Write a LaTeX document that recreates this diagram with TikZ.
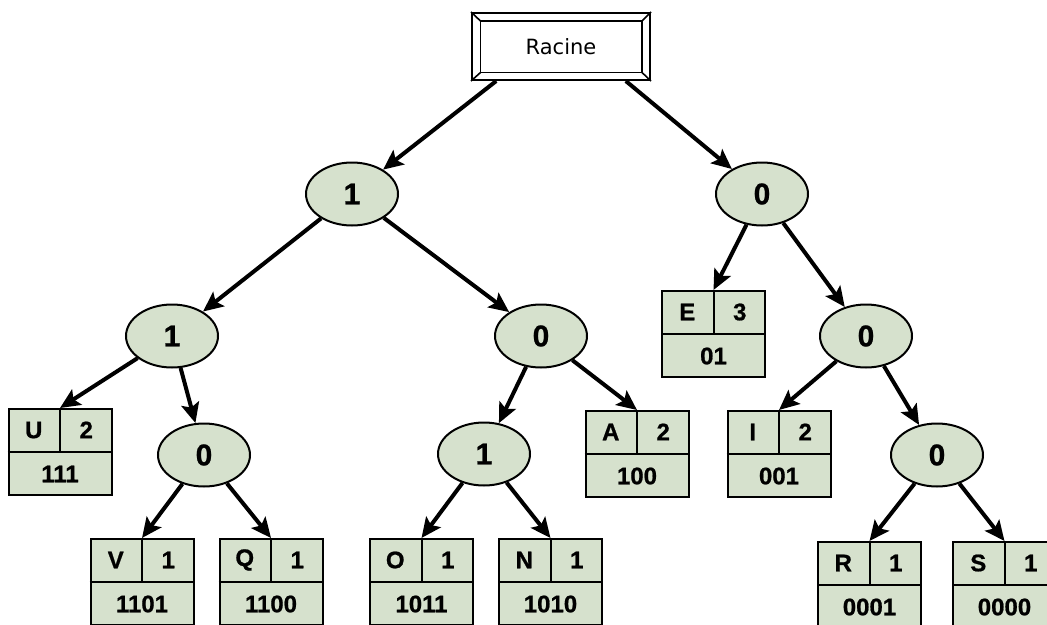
\documentclass[tikz,border=0pt]{standalone}
\usepackage{fontspec}
\setmainfont{Liberation Sans}
\newfontfamily\racfont{DejaVu Sans}
\newfontfamily\heavyfont[FakeBold=0.8]{Liberation Sans}
\usetikzlibrary{shapes.geometric,arrows.meta,calc}
\definecolor{nodegreen}{RGB}{214,225,205}
\tikzset{
  ell/.style={ellipse,draw=black,line width=2pt,fill=nodegreen,minimum width=92pt,minimum height=63pt,inner sep=0pt,font=\heavyfont\fontsize{30}{30}\selectfont\bfseries},
  leaf/.style={rectangle,draw=black,line width=2pt,fill=nodegreen,minimum width=103pt,minimum height=86pt,inner sep=0pt},
  cellline/.style={line width=2pt},
  btxt/.style={inner sep=0pt,font=\heavyfont\fontsize{24}{24}\selectfont\bfseries},
  conn/.style={line width=4pt,-{Stealth[length=20pt,width=18pt,inset=4pt]}},
  rootbox/.style={rectangle,draw=black,line width=2pt,minimum width=178pt,minimum height=67pt,inner sep=0pt,font=\racfont\fontsize{21}{21}\selectfont},
  bevel/.style={line width=1.6pt}
}
\newcommand\leafnode[5]{%
  \node[leaf] (#1) at #2 {};
  \draw[cellline] (#1.west) -- (#1.east) (#1.north) -- (#1.center);
  \node[btxt] (#1-l) at ($(#1.north west)!0.5!(#1.center)$) {#3};
  \node[btxt] (#1-c) at ($(#1.north east)!0.5!(#1.center)$) {#4};
  \node[btxt] (#1-b) at ($(#1.south)!0.5!(#1.center)$) {#5};
}
\begin{document}
\begin{tikzpicture}[x=1pt,y=-1pt]
\useasboundingbox[fill=white] (0,0) rectangle (1047,624);
% root
\node[rootbox] (r) at (561,46.5) {Racine};
\coordinate (ri1) at ([shift={(9.5,9)}]r.north west);
\coordinate (ri2) at ([shift={(-9,9)}]r.north east);
\coordinate (ri3) at ([shift={(-9,-8.5)}]r.south east);
\coordinate (ri4) at ([shift={(9.5,-8.5)}]r.south west);
\draw[bevel] (ri1) -- (ri2) -- (ri3) -- (ri4) -- cycle;
\draw[bevel] (r.north west) -- (ri1) (r.north east) -- (ri2) (r.south east) -- (ri3) (r.south west) -- (ri4);
% ellipses
\node[ell] (n1) at (352,194) {1};
\node[ell] (n0) at (762,194) {0};
\node[ell] (n11) at (172,336) {1};
\node[ell] (n10) at (541,336) {0};
\node[ell] (n00) at (866,336) {0};
\node[ell] (n110) at (204,455) {0};
\node[ell] (n101) at (484,454) {1};
\node[ell] (n000) at (937,455) {0};
% leaves
\leafnode{E}{(713.5,334)}{E}{3}{01}
\leafnode{U}{(60,452)}{U}{2}{111}
\leafnode{A}{(637,454)}{A}{2}{100}
\leafnode{I}{(779,454)}{I}{2}{001}
\leafnode{V}{(142,582)}{V}{1}{1101}
\leafnode{Q}{(271,582)}{Q}{1}{1100}
\leafnode{O}{(421.5,582)}{O}{1}{1011}
\leafnode{N}{(550.5,582)}{N}{1}{1010}
\leafnode{R}{(869.5,585)}{R}{1}{0001}
\leafnode{S}{(1004.5,585)}{S}{1}{0000}
% connectors
\draw[conn] ($(r.south)!0.72!(r.south west)$) -- (n1);
\draw[conn] ($(r.south)!0.72!(r.south east)$) -- (n0);
\draw[conn] (n1) -- (n11);
\draw[conn] (n1) -- (n10);
\draw[conn] (n0) -- (E.north);
\draw[conn] (n0) -- (n00);
\draw[conn] (n11) -- (U.north);
\draw[conn] (n11) -- (n110);
\draw[conn] (n10) -- (n101);
\draw[conn] (n10) -- (A.north);
\draw[conn] (n00) -- (I.north);
\draw[conn] (n00) -- (n000);
\draw[conn] (n110) -- (V.north);
\draw[conn] (n110) -- (Q.north);
\draw[conn] (n101) -- (O.north);
\draw[conn] (n101) -- (N.north);
\draw[conn] (n000) -- (R.north);
\draw[conn] (n000) -- (S.north);
\end{tikzpicture}
\end{document}
